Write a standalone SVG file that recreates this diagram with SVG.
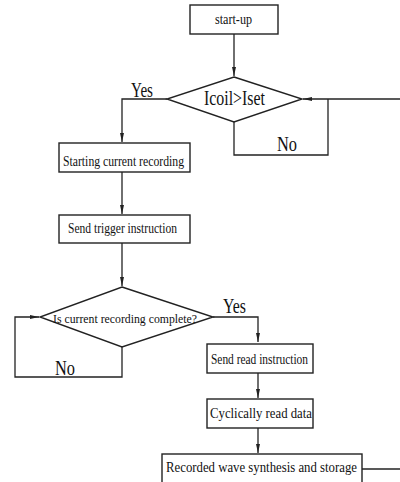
<svg xmlns="http://www.w3.org/2000/svg" width="400" height="482" viewBox="0 0 400 482">
<style>
.box{fill:#fff;stroke:#222;stroke-width:1.4}
.ln{fill:none;stroke:#222;stroke-width:1.3}
text{font-family:"Liberation Serif","Times New Roman",serif;fill:#111}
.t{font-size:15px}
.lb{font-size:20px}
</style>
<defs>
<marker id="ah" markerUnits="userSpaceOnUse" markerWidth="10" markerHeight="6" refX="9" refY="3" orient="auto">
<path d="M0,1 L9,3 L0,5 Z" fill="#222"/>
</marker>
</defs>
<rect width="400" height="482" fill="#fff"/>
<g id="connectors">
<path class="ln" d="M234,34 V76" marker-end="url(#ah)"/>
<path class="ln" d="M167,99 H122 V142" marker-end="url(#ah)"/>
<path class="ln" d="M400,99 H303" marker-end="url(#ah)"/>
<path class="ln" d="M234,122 V155 H328 V99"/>
<path class="ln" d="M122,172 V214" marker-end="url(#ah)"/>
<path class="ln" d="M122,243 V286" marker-end="url(#ah)"/>
<path class="ln" d="M213,317 H258 V342" marker-end="url(#ah)"/>
<path class="ln" d="M122,347 V377 H15 V317 H39" marker-end="url(#ah)"/>
<path class="ln" d="M258,373 V398" marker-end="url(#ah)"/>
<path class="ln" d="M258,428 V453" marker-end="url(#ah)"/>
<path class="ln" d="M362,469 H400"/>
<text class="lb" x="131" y="97" textLength="22" lengthAdjust="spacingAndGlyphs">Yes</text>
<text class="lb" x="277" y="151" textLength="20" lengthAdjust="spacingAndGlyphs">No</text>
<text class="lb" x="223" y="313" textLength="23" lengthAdjust="spacingAndGlyphs">Yes</text>
<text class="lb" x="55" y="375" textLength="20" lengthAdjust="spacingAndGlyphs">No</text>
</g>
<g id="start">
<rect class="box" x="190" y="5" width="88" height="29"/>
<text class="t" x="215" y="24" textLength="37" lengthAdjust="spacingAndGlyphs">start-up</text>
</g>
<g id="decision1">
<path class="box" d="M234,77 L302,99 L234,122 L167,99 Z"/>
<text x="204" y="105" font-size="21" textLength="61" lengthAdjust="spacingAndGlyphs">Icoil&gt;Iset</text>
</g>
<g id="start-recording">
<rect class="box" x="59" y="143" width="131" height="29"/>
<text class="t" x="63" y="166" textLength="121" lengthAdjust="spacingAndGlyphs">Starting current recording</text>
</g>
<g id="send-trigger">
<rect class="box" x="59" y="215" width="131" height="28"/>
<text class="t" x="68" y="233" textLength="109" lengthAdjust="spacingAndGlyphs">Send trigger instruction</text>
</g>
<g id="decision2">
<path class="box" d="M122,287 L213,317 L122,347 L40,317 Z"/>
<text x="53" y="323" font-size="13.5" textLength="144" lengthAdjust="spacingAndGlyphs">Is current recording complete?</text>
</g>
<g id="send-read">
<rect class="box" x="207" y="344" width="106" height="29"/>
<text class="t" x="211" y="364" textLength="97" lengthAdjust="spacingAndGlyphs">Send read instruction</text>
</g>
<g id="cyclic-read">
<rect class="box" x="207" y="399" width="106" height="29"/>
<text class="t" x="210" y="418" textLength="102" lengthAdjust="spacingAndGlyphs">Cyclically read data</text>
</g>
<g id="synthesis">
<rect class="box" x="162" y="454" width="200" height="32"/>
<text class="t" x="166" y="472" textLength="191" lengthAdjust="spacingAndGlyphs">Recorded wave synthesis and storage</text>
</g>
</svg>
